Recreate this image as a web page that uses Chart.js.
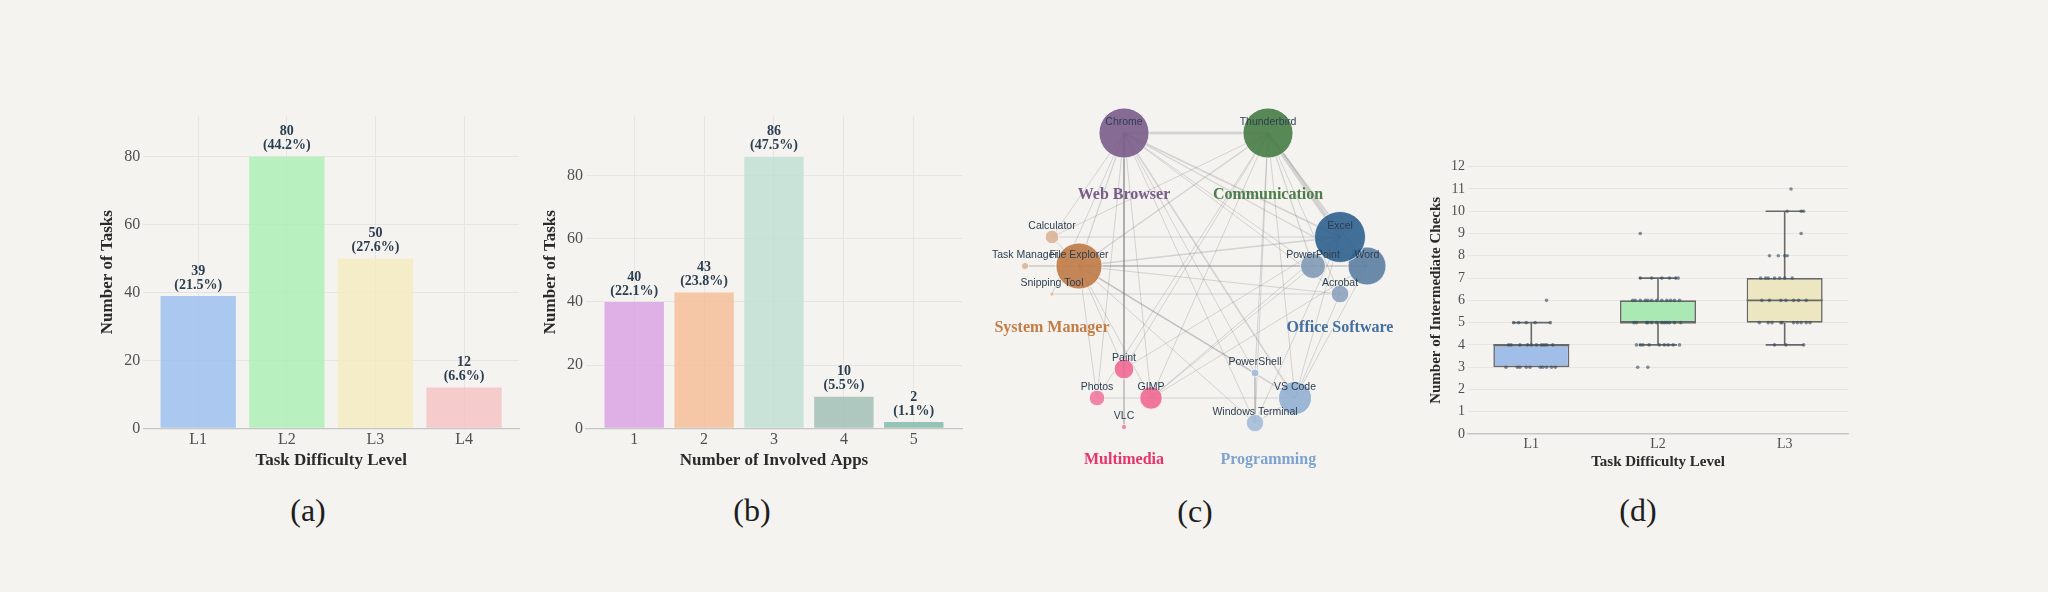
<!DOCTYPE html>
<html>
<head>
<meta charset="utf-8">
<script src="https://cdn.jsdelivr.net/npm/chart.js@4.4.1/dist/chart.umd.min.js"></script>
<style>
html,body{margin:0;padding:0;background:#f4f3f0;}
body{width:2048px;height:592px;position:relative;overflow:hidden;}
.panel{position:absolute;}
.cap{position:absolute;font-family:"Liberation Serif","Times New Roman",serif;font-size:32px;line-height:32px;color:#1e1e1e;transform:translate(-50%,-50%);white-space:nowrap;}
</style>
</head>
<body>
<div class="panel" id="boxA"><canvas id="chartA"></canvas></div>
<div class="panel" id="boxB"><canvas id="chartB"></canvas></div>
<div class="panel" id="boxC"><canvas id="chartC"></canvas></div>
<div class="panel" id="boxD"><canvas id="chartD"></canvas></div>
<div class="cap" style="left:308px;top:510px">(a)</div>
<div class="cap" style="left:752px;top:510px">(b)</div>
<div class="cap" style="left:1195px;top:511px">(c)</div>
<div class="cap" style="left:1638px;top:510px">(d)</div>
<script>
// ---- (a) tasks per difficulty level
const levelLabels = ['L1', 'L2', 'L3', 'L4'];
const levelCounts = [39, 80, 50, 12];

// ---- (b) tasks per number of involved apps
const appCountLabels = ['1', '2', '3', '4', '5'];
const appCountTasks = [40, 43, 86, 10, 2];

// ---- (c) app co-usage network (layout coords)
const appNames = ['Chrome', 'Thunderbird', 'Excel', 'Word', 'PowerPoint', 'Acrobat', 'File Explorer', 'Calculator',
  'Task Manager', 'Snipping Tool', 'Paint', 'Photos', 'GIMP', 'VLC', 'PowerShell', 'VS Code', 'Windows Terminal'];
const appGroup = [0, 1, 2, 2, 2, 2, 3, 3, 3, 3, 4, 4, 4, 4, 5, 5, 5];
const appX = [-72, 72, 144, 171, 117, 144, -117, -144, -171, -144, -72, -99, -45, -72, 59, 99, 59];
const appY = [133, 133, 29, 0, 0, -28, 0, 29, 0, -28, -103, -132, -132, -161, -107, -132, -157];
const appSize = [25, 25, 25.5, 19, 12.5, 8.8, 23, 6.8, 3.6, 2.2, 9.8, 7.8, 11.2, 2.5, 4, 16.5, 8.7];
const groupNames = ['Web Browser', 'Communication', 'Office Software', 'System Manager', 'Multimedia', 'Programming'];
const appLinks = [
  ['Chrome', 'Thunderbird', 2.5], ['Chrome', 'File Explorer', 1.2], ['Chrome', 'Calculator', 1], ['Chrome', 'Snipping Tool', 1],
  ['Chrome', 'Excel', 1.5], ['Chrome', 'Word', 1.2], ['Chrome', 'PowerPoint', 1], ['Chrome', 'Acrobat', 1],
  ['Chrome', 'Paint', 1], ['Chrome', 'VLC', 1], ['Chrome', 'Photos', 1], ['Chrome', 'GIMP', 1],
  ['Chrome', 'VS Code', 1.5], ['Chrome', 'Windows Terminal', 1], ['Chrome', 'PowerShell', 1],
  ['Thunderbird', 'Excel', 4], ['Thunderbird', 'Word', 1.5], ['Thunderbird', 'PowerPoint', 1.2], ['Thunderbird', 'Acrobat', 1],
  ['Thunderbird', 'File Explorer', 1.5], ['Thunderbird', 'Calculator', 1], ['Thunderbird', 'Paint', 1], ['Thunderbird', 'Photos', 1],
  ['Thunderbird', 'GIMP', 1], ['Thunderbird', 'VS Code', 1], ['Thunderbird', 'Windows Terminal', 1], ['Thunderbird', 'PowerShell', 1],
  ['File Explorer', 'Excel', 1.5], ['File Explorer', 'Word', 1.5], ['File Explorer', 'PowerPoint', 1], ['File Explorer', 'Acrobat', 1],
  ['File Explorer', 'Task Manager', 1], ['File Explorer', 'Calculator', 1], ['File Explorer', 'Paint', 1], ['File Explorer', 'Photos', 1],
  ['File Explorer', 'GIMP', 1], ['File Explorer', 'VS Code', 1.5], ['File Explorer', 'Windows Terminal', 1], ['File Explorer', 'PowerShell', 1],
  ['Calculator', 'Excel', 1], ['Task Manager', 'Word', 1], ['Snipping Tool', 'Acrobat', 1],
  ['Excel', 'GIMP', 1], ['Excel', 'Paint', 1], ['Word', 'GIMP', 1], ['PowerPoint', 'GIMP', 1],
  ['Excel', 'VS Code', 1], ['Word', 'VS Code', 1], ['Acrobat', 'VS Code', 1], ['Excel', 'Windows Terminal', 1],
  ['Excel', 'Word', 1], ['Excel', 'PowerPoint', 1], ['Photos', 'VS Code', 1],
  ['VS Code', 'Windows Terminal', 1], ['PowerShell', 'Windows Terminal', 1]
];

// ---- (d) intermediate checks per difficulty level
const checkLevels = ['L1', 'L2', 'L3'];
const checkLow = [3, 4, 4];
const checkQ1 = [3, 5, 5];
const checkMedian = [4, 5, 6];
const checkQ3 = [4, 6, 7];
const checkHigh = [5, 7, 10];
// observations as [jitter, value]
const checkPoints = [
  [[-0.20,3],[-0.11,3],[-0.09,3],[-0.04,3],[-0.01,3],[0.07,3],[0.09,3],[0.12,3],[0.16,3],[0.19,3],
   [-0.18,4],[-0.16,4],[-0.09,4],[-0.03,4],[0,4],[0.04,4],[0.08,4],[0.10,4],[0.12,4],[0.17,4],
   [-0.14,5],[-0.10,5],[-0.04,5],[0.03,5],[0.15,5],[0.12,6]],
  [[-0.14,9],[-0.14,7],[-0.05,7],[0.03,7],[0.09,7],[0.14,7],[0.16,7],
   [-0.20,6],[-0.18,6],[-0.14,6],[-0.10,6],[-0.08,6],[-0.05,6],[-0.01,6],[0.03,6],[0.07,6],[0.10,6],[0.13,6],[0.17,6],
   [-0.19,5],[-0.17,5],[-0.09,5],[-0.08,5],[-0.05,5],[-0.01,5],[0.03,5],[0.05,5],[0.07,5],[0.09,5],[0.13,5],[0.18,5],
   [-0.17,4],[-0.14,4],[-0.12,4],[-0.07,4],[0.01,4],[0.05,4],[0.08,4],[0.12,4],[0.17,4],[-0.16,3],[-0.08,3]],
  [[0.05,11],[0.02,10],[0.13,10],[0.15,10],[0.13,9],[-0.12,8],[-0.05,8],[0,8],[0.02,8],
   [-0.19,7],[-0.15,7],[-0.13,7],[-0.08,7],[-0.04,7],[0,7],[0.06,7],
   [-0.18,6],[-0.12,6],[-0.03,6],[0.01,6],[0.07,6],[0.11,6],[0.17,6],
   [-0.20,5],[-0.13,5],[-0.10,5],[-0.03,5],[-0.02,5],[0.07,5],[0.10,5],[0.13,5],[0.17,5],[0.20,5],
   [-0.08,4],[0.01,4],[0.15,4]]
];

// ===== styling =====
const SERIF = '"Liberation Serif", "Times New Roman", serif';
const SANS = '"Liberation Sans", Arial, sans-serif';
const GRID = '#e6e5e2', AXIS = '#c6c6c6', TICK = '#4f4f4f', TITLE = '#2a2a2a', LABEL = '#2c3e50';
Chart.defaults.font.family = SERIF;
Chart.defaults.animation = false;
Chart.defaults.layout.autoPadding = false;

const levelColors = ['rgba(151,189,240,0.8)', 'rgba(169,239,180,0.8)', 'rgba(245,235,190,0.8)', 'rgba(245,193,194,0.8)'];
const appCountColors = ['rgba(216,159,226,0.8)', 'rgba(245,187,147,0.8)', 'rgba(190,222,210,0.8)', 'rgba(158,189,179,0.8)', 'rgba(125,183,166,0.8)'];
const appColors = ['#7a5c8a', '#487c46', '#2e608e', '#5c7ea2', '#829ab6', '#8ca2be', '#c07a46', '#dcb496', '#dcb496', '#e2bc9e',
  '#f06892', '#f07a9e', '#f06892', '#f07a9e', '#a4bcd8', '#92b0d2', '#a4bcd8'];
const groupColors = ['#7a5c8a', '#4d7d4a', '#4470a0', '#c47c45', '#e8336b', '#7fa3d1'];
const checkColors = ['#a0bee8', '#aae8b4', '#ece7c0'];

// place a panel so that its plot area lands on the given page rectangle
function placeBox(id, g) {
  const left = Math.round(g.yTitleX - g.yTitleSize * 0.6);
  const top = Math.round(g.plotT - g.padTop);
  const right = Math.round(g.plotR + 5);
  const bottom = Math.round(g.xTitleY + g.xTitleSize * 0.6);
  const el = document.getElementById(id);
  Object.assign(el.style, {left: left + 'px', top: top + 'px', width: (right - left) + 'px', height: (bottom - top) + 'px'});
  return {yW: g.plotL - left, xH: bottom - g.plotB, padTop: g.plotT - top, padRight: right - g.plotR};
}

const barLabelPlugin = {
  id: 'barLabels',
  afterDatasetsDraw(chart) {
    const {ctx} = chart;
    const vals = chart.data.datasets[0].data.map(d => d.y);
    const total = vals.reduce((a, b) => a + b, 0);
    ctx.save();
    ctx.font = `bold 14px ${SERIF}`;
    ctx.fillStyle = LABEL;
    ctx.textAlign = 'center';
    ctx.textBaseline = 'middle';
    chart.getDatasetMeta(0).data.forEach((bar, i) => {
      ctx.fillText(String(vals[i]), bar.x, bar.y - 25);
      ctx.fillText(`(${(vals[i] / total * 100).toFixed(1)}%)`, bar.x, bar.y - 11);
    });
    ctx.restore();
  }
};

function barPanel(canvasId, boxId, g, labels, values, colors, xTitle) {
  const L = placeBox(boxId, g);
  return new Chart(document.getElementById(canvasId), {
    type: 'bar',
    data: {datasets: [{data: values.map((v, i) => ({x: i, y: v})), backgroundColor: colors, borderWidth: 0,
      barPercentage: 0.85, categoryPercentage: 1}]},
    options: {
      responsive: true, maintainAspectRatio: false,
      layout: {padding: {top: L.padTop, right: L.padRight, left: 0, bottom: 0}},
      plugins: {legend: {display: false}, tooltip: {enabled: false}},
      scales: {
        x: {type: 'linear', min: g.xMin, max: g.xMax, offset: false,
          afterBuildTicks: s => { s.ticks = labels.map((_, i) => ({value: i})); },
          afterFit: s => { s.height = L.xH; },
          grid: {color: GRID, drawTicks: false, offset: false},
          border: {display: true, color: AXIS, width: 1.2},
          ticks: {padding: 2, color: TICK, font: {size: 16}, callback: v => labels[v]},
          title: {display: true, text: xTitle, color: TITLE, padding: 0, font: {size: g.xTitleSize, weight: 'bold'}}},
        y: {min: 0, max: Math.max(...values) * 1.15,
          afterFit: s => { s.width = L.yW; },
          grid: {color: GRID, drawTicks: false},
          border: {display: false},
          ticks: {stepSize: 20, includeBounds: false, padding: 3, color: TICK, font: {size: 16}},
          title: {display: true, text: 'Number of Tasks', color: TITLE, padding: 0, font: {size: g.yTitleSize, weight: 'bold'}}}
      }
    },
    plugins: [barLabelPlugin]
  });
}

barPanel('chartA', 'boxA',
  {plotL: 143.3, plotR: 519, plotT: 116, plotB: 428.3, yTitleX: 106.7, xTitleY: 460.7, yTitleSize: 17, xTitleSize: 17, padTop: 30, xMin: -0.62, xMax: 3.62},
  levelLabels, levelCounts, levelColors, 'Task Difficulty Level');

barPanel('chartB', 'boxB',
  {plotL: 586, plotR: 962, plotT: 116, plotB: 428.3, yTitleX: 550, xTitleY: 460.7, yTitleSize: 17, xTitleSize: 17, padTop: 30, xMin: -0.69, xMax: 4.69},
  appCountLabels, appCountTasks, appCountColors, 'Number of Involved Apps');

// ===== (c) network =====
const netLabelPlugin = {
  id: 'netLabels',
  afterDatasetsDraw(chart) {
    const {ctx, scales: {x, y}} = chart;
    ctx.save();
    ctx.textAlign = 'center';
    ctx.textBaseline = 'middle';
    ctx.font = `10.5px ${SANS}`;
    ctx.fillStyle = LABEL;
    appNames.forEach((n, i) => ctx.fillText(n, x.getPixelForValue(appX[i]), y.getPixelForValue(appY[i]) - 11));
    ctx.font = `bold 16px ${SERIF}`;
    groupNames.forEach((gname, gi) => {
      const idx = appGroup.map((g, i) => g === gi ? i : -1).filter(i => i >= 0);
      const cx = idx.reduce((s, i) => s + appX[i], 0) / idx.length;
      const cy = idx.reduce((s, i) => s + appY[i], 0) / idx.length;
      ctx.fillStyle = groupColors[gi];
      ctx.fillText(gname, x.getPixelForValue(cx), y.getPixelForValue(cy - 62));
    });
    ctx.restore();
  }
};

(function () {
  const el = document.getElementById('boxC');
  Object.assign(el.style, {left: '980px', top: '95px', width: '430px', height: '390px'});
  const linkSets = appLinks.map(([a, b, w]) => {
    const i = appNames.indexOf(a), j = appNames.indexOf(b);
    return {type: 'line', data: [{x: appX[i], y: appY[i]}, {x: appX[j], y: appY[j]}], order: 1,
      borderColor: 'rgba(125,125,125,0.28)', borderWidth: w, pointRadius: 0, fill: false, tension: 0};
  });
  // smaller nodes first so that big ones sit on top, as in the picture
  const drawOrder = appNames.map((_, i) => i).sort((a, b) => appSize[a] - appSize[b]);
  new Chart(document.getElementById('chartC'), {
    type: 'bubble',
    data: {datasets: [
      {type: 'bubble', order: 0, data: drawOrder.map(i => ({x: appX[i], y: appY[i], r: appSize[i]})),
        backgroundColor: drawOrder.map(i => appColors[i] + 'e6'), borderColor: 'rgba(255,255,255,0.7)', borderWidth: 1},
      ...linkSets
    ]},
    options: {
      responsive: true, maintainAspectRatio: false,
      layout: {padding: 0, autoPadding: false},
      plugins: {legend: {display: false}, tooltip: {enabled: false}},
      scales: {
        x: {type: 'linear', display: false, min: -216, max: 214},
        y: {type: 'linear', display: false, min: -219, max: 171}
      }
    },
    plugins: [netLabelPlugin]
  });
})();

// ===== (d) box plot =====
(function () {
  const g = {plotL: 1468, plotR: 1848, plotT: 166.7, plotB: 434, yTitleX: 1436, xTitleY: 461.7, yTitleSize: 15, xTitleSize: 15, padTop: 20};
  const L = placeBox('boxD', g);
  const CAP = 0.15, HALF = 0.3;
  const whisk = [];
  const seg = (x1, y1, x2, y2) => whisk.push({x: x1, y: y1}, {x: x2, y: y2}, {x: null, y: null});
  checkLevels.forEach((_, i) => {
    seg(i, checkQ3[i], i, checkHigh[i]);
    if (checkLow[i] < checkQ1[i]) {
      seg(i, checkQ1[i], i, checkLow[i]);
      seg(i - CAP, checkLow[i], i + CAP, checkLow[i]);
    }
    seg(i - CAP, checkHigh[i], i + CAP, checkHigh[i]);
    seg(i - HALF, checkMedian[i], i + HALF, checkMedian[i]);
  });
  const pts = [];
  checkPoints.forEach((list, i) => list.forEach(([dx, v]) => pts.push({x: i + dx, y: v})));

  new Chart(document.getElementById('chartD'), {
    type: 'bar',
    data: {datasets: [
      {type: 'scatter', order: 0, data: pts, pointRadius: 1.8, backgroundColor: 'rgba(52,73,94,0.6)', borderWidth: 0},
      {type: 'line', order: 1, data: whisk, borderColor: '#686868', borderWidth: 1.6, pointRadius: 0, spanGaps: false, fill: false},
      {type: 'bar', order: 2, data: checkLevels.map((_, i) => ({x: i, y: [checkQ1[i], checkQ3[i]]})),
        backgroundColor: checkColors, borderColor: '#686868', borderWidth: 1.6, borderSkipped: false,
        barPercentage: 0.6, categoryPercentage: 1}
    ]},
    options: {
      responsive: true, maintainAspectRatio: false,
      layout: {padding: {top: L.padTop, right: L.padRight, left: 0, bottom: 0}},
      plugins: {legend: {display: false}, tooltip: {enabled: false}},
      scales: {
        x: {type: 'linear', min: -0.5, max: 2.5, offset: false,
          afterBuildTicks: s => { s.ticks = checkLevels.map((_, i) => ({value: i})); },
          afterFit: s => { s.height = L.xH; },
          grid: {display: false, drawTicks: false, offset: false},
          border: {display: true, color: AXIS, width: 1.2},
          ticks: {padding: 2, color: TICK, font: {size: 14}, callback: v => checkLevels[v]},
          title: {display: true, text: 'Task Difficulty Level', color: TITLE, padding: 0, font: {size: g.xTitleSize, weight: 'bold'}}},
        y: {min: 0, max: 12,
          afterFit: s => { s.width = L.yW; },
          grid: {color: GRID, drawTicks: false},
          border: {display: false},
          ticks: {stepSize: 1, includeBounds: false, padding: 3, color: TICK, font: {size: 14}},
          title: {display: true, text: 'Number of Intermediate Checks', color: TITLE, padding: 0, font: {size: g.yTitleSize, weight: 'bold'}}}
      }
    }
  });
})();
</script>
</body>
</html>
